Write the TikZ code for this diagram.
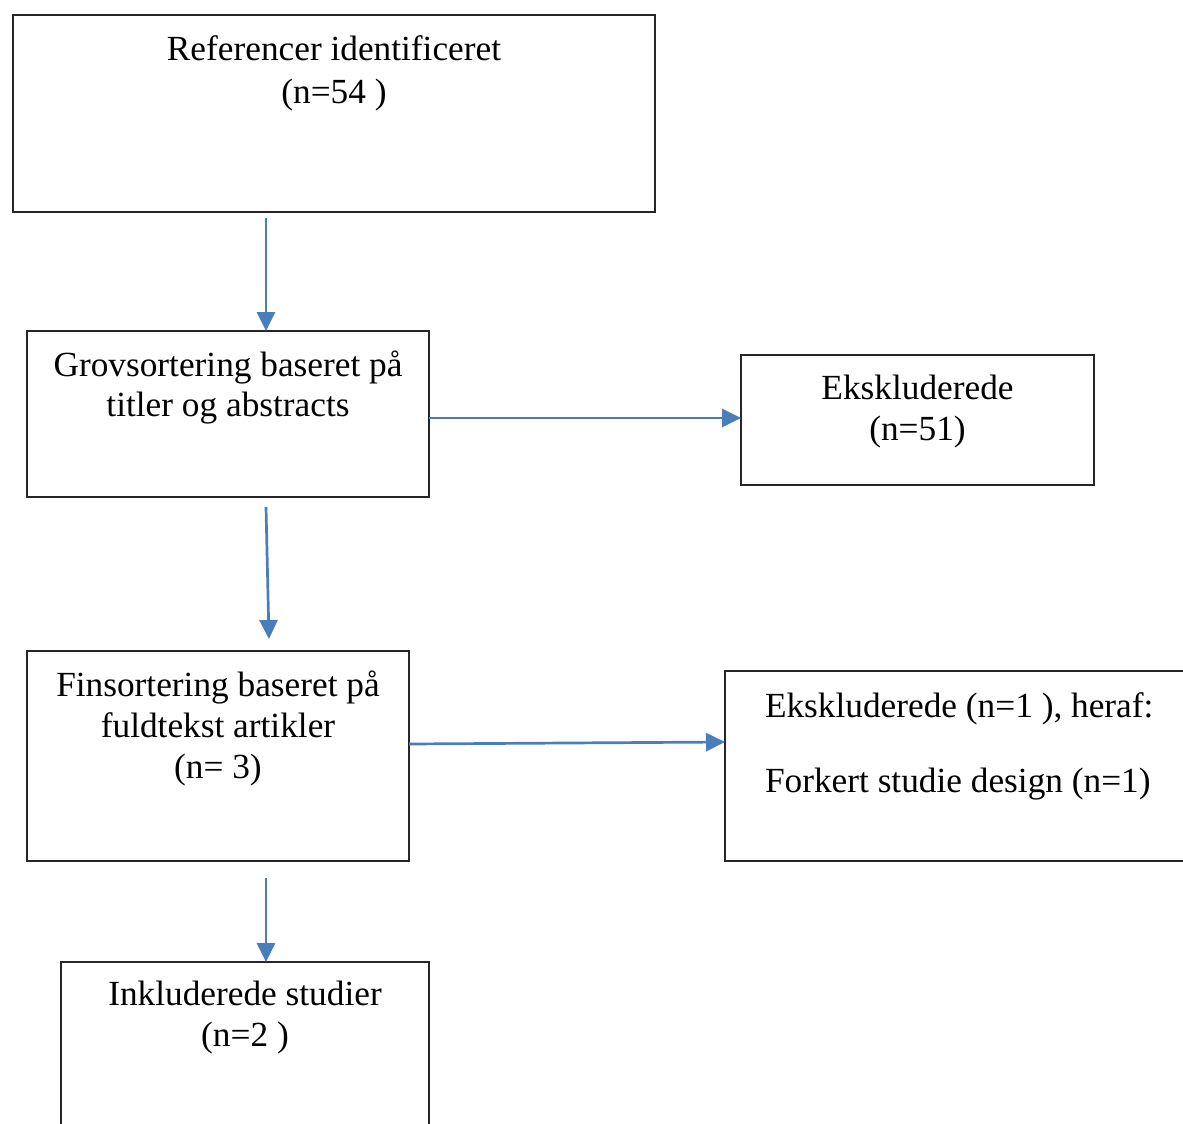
\documentclass[tikz,border=0pt]{standalone}
\usepackage{fontspec}
\setmainfont{Liberation Serif}
\usetikzlibrary{arrows.meta}
\definecolor{arrblue}{HTML}{4A7EBB}
\definecolor{boxline}{HTML}{262626}
\tikzset{
  box/.style={draw=boxline, line width=1pt, rectangle, inner sep=0pt, outer sep=0pt},
  txt/.style={inner sep=0pt, outer sep=0pt, align=center, anchor=north,
    font=\fontsize{17.65pt}{20.5pt}\selectfont},
  arr/.style={draw=arrblue, line width=1.35pt,
    -{Triangle[length=9.5pt,width=9pt]}, arrblue}
}
\begin{document}
\begin{tikzpicture}[x=0.5pt,y=-0.5pt]
\useasboundingbox (0,0) rectangle (1183,1124);
\clip (0,0) rectangle (1183,1124);
% boxes
\node (b1) [box, minimum width=321pt, minimum height=98.5pt] at (334,113.5) {};
\node (b2) [box, minimum width=201pt, minimum height=83pt] at (228,414) {};
\node (b3) [box, minimum width=176.5pt, minimum height=65pt] at (917.5,420) {};
\node (b4) [box, minimum width=191pt, minimum height=105pt] at (218,756) {};
\node (b5) [box, minimum width=252.5pt, minimum height=95pt] at (977.5,766) {};
\node (b6) [box, minimum width=184pt, minimum height=99pt] at (245,1061) {};
% texts
\node (t1) [txt, font=\fontsize{17.65pt}{21.5pt}\selectfont] at (334,36) {Referencer identificeret\\(n=54 )};
\node (t2) [txt, font=\fontsize{17.65pt}{20pt}\selectfont] at (228,351) {Grovsortering baseret på\\titler og abstracts};
\node (t3) [txt] at (917.5,375) {Ekskluderede\\(n=51)};
\node (t4) [txt] at (218,671) {Finsortering baseret på\\fuldtekst artikler\\(n= 3)};
\node (t5) [txt, anchor=north west, align=left] at (765,693) {Ekskluderede (n=1 ), heraf:\\[17pt]Forkert studie design (n=1)};
\node (t6) [txt] at (245,981) {Inkluderede studier\\(n=2 )};
% connectors
\coordinate (a1s) at (266,218);
\coordinate (a3s) at (266,507);
\coordinate (a3e) at (269,639);
\coordinate (a6s) at (266,878);
\draw[arr] (a1s) -- (a1s |- b2.north);
\draw[arr] (b2.east |- 0,418) -- (b3.west |- 0,418);
\draw[arr] (a3s) -- (a3e);
\draw[arr] (b4.east |- 0,744) -- (b5.west |- 0,742);
\draw[arr] (a6s) -- (a6s |- b6.north);
\end{tikzpicture}
\end{document}
